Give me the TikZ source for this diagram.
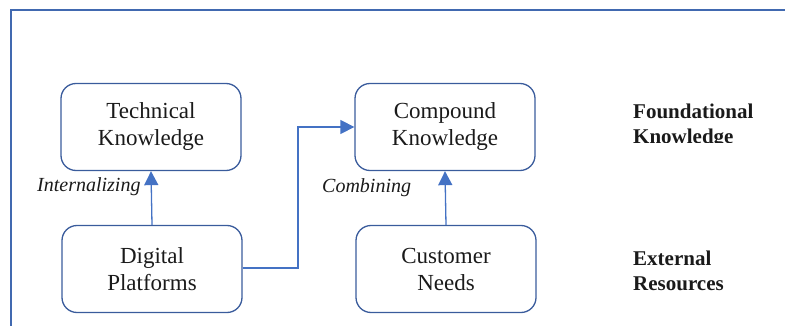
\documentclass[tikz,border=0pt]{standalone}
\usepackage{fontspec}
\setmainfont{Liberation Serif}
\usetikzlibrary{arrows.meta}
\definecolor{frameblue}{HTML}{4169B0}
\definecolor{boxblue}{HTML}{3A5C9C}
\definecolor{arrowblue}{HTML}{4472C4}
\definecolor{ink}{HTML}{1A1A1A}
\tikzset{
  box/.style={draw=boxblue, line width=1.3pt, rounded corners=15pt,
    minimum width=180pt, minimum height=87pt, align=center, text=ink,
    font=\fontsize{23}{27}\selectfont, inner sep=0pt},
  flow/.style={draw=arrowblue, line width=1.3pt,
    -{Triangle[width=14pt,length=14pt]}},
  verb/.style={font=\fontsize{20}{24}\selectfont\itshape, text=ink,
    inner sep=0pt, anchor=base west},
  level/.style={font=\fontsize{21}{25}\selectfont\bfseries, text=ink,
    inner sep=0pt, anchor=base west, align=left},
}
\begin{document}
\begin{tikzpicture}[x=1pt, y=-1pt]
  \useasboundingbox (0,0) rectangle (785,326);
  % outer frame (top and left edges)
  \draw[frameblue, line width=1.1pt] (11,326) -- (11,10) -- (785,10);

  % knowledge boxes
  \node[box] (tech) at (151,127) {Technical\\Knowledge};
  \node[box] (comp) at (445,127) {Compound\\Knowledge};
  \node[box] (digi) at (152,269) {Digital\\Platforms};
  \node[box] (cust) at (446,269) {Customer\\Needs};

  % connectors
  \draw[flow] (digi.north) -- (tech.south);
  \draw[flow] (cust.north) -- (comp.south);
  \coordinate (bend) at (298,268);
  \draw[flow] (digi.east |- bend) -- (bend) |- (comp.west |- 0,127);

  % process labels
  \node[verb] (intl) at (37,192) {Internalizing};
  \node[verb] (cmbl) at (322,193) {Combining};

  % level labels (base anchor sits on the last line)
  \begin{scope}
    \clip (600,90) rectangle (785,143);
    \node[level] (found) at (633,144) {Foundational\\Knowledge};
  \end{scope}
  \node[level] (ext) at (633,290) {External\\Resources};
\end{tikzpicture}
\end{document}
